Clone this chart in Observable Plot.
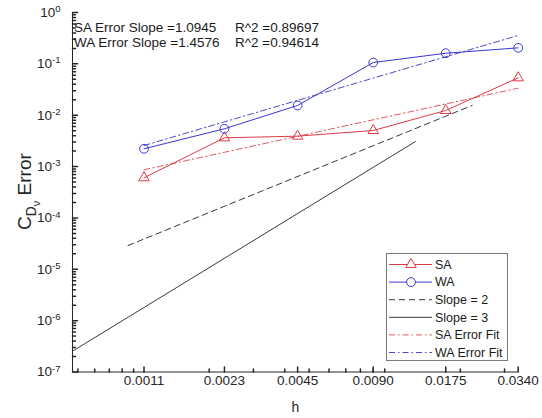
<!DOCTYPE html>
<html><head><meta charset="utf-8">
<script src="https://cdn.jsdelivr.net/npm/d3@7"></script>
<script src="https://cdn.jsdelivr.net/npm/@observablehq/plot@0.6"></script>
<style>
body{margin:0;background:#fff;}
#chart svg{font-family:"Liberation Sans",Arial,Helvetica,sans-serif;}
</style>
</head><body><div id="chart"></div>
<script>
// ---- data ----
const hValues = [0.0011, 0.0023, 0.0045, 0.0090, 0.0175, 0.0340];
const hLabels = ["0.0011", "0.0023", "0.0045", "0.0090", "0.0175", "0.0340"];
const saError = [6.05e-4, 3.63e-3, 3.91e-3, 5.04e-3, 1.236e-2, 5.35e-2];
const waError = [2.22e-3, 5.44e-3, 1.55e-2, 1.06e-1, 1.61e-1, 2.05e-1];
const saFitH = [0.0011, 0.0340];
const saFit = [8.65e-4, 3.36e-2];
const waFitH = [0.0011, 0.0340];
const waFit = [2.57e-3, 3.57e-1];
const slope2H = [0.00095, 0.0223];
const slope2 = [2.9e-5, 1.55e-2];
const slope3H = [0.000571, 0.01326];
const slope3 = [2.54e-7, 3.08e-3];
const yTicks = [1e-7, 1e-6, 1e-5, 1e-4, 1e-3, 1e-2, 1e-1, 1];
const yExponents = ["-7", "-6", "-5", "-4", "-3", "-2", "-1", "0"];
const xDomain = [0.000571, 0.0341];
const yDomain = [1e-7, 1];
const slopeText = ["SA Error Slope =1.0945", "WA Error Slope =1.4576"];
const r2Text = ["R^2 =0.89697", "R^2 =0.94614"];
const legendLabels = ["SA", "WA", "Slope = 2", "Slope = 3", "SA Error Fit", "WA Error Fit"];
const xLabel = "h";

// ---- styles ----
const SA = "#dc3c46", WA = "#3838d0", SAfit = "#e05a62", WAfit = "#4a4ac8", K = "#3a3a3a", AX = "#262626";
const DASHDOT = "6,3,1.5,3", DASH = "6,4";

const rows = (xs, ys) => xs.map((x, i) => ({x, y: ys[i]}));
const saRows = rows(hValues, saError), waRows = rows(hValues, waError);

// minor log ticks (axis decoration)
const minorX = [], minorY = [];
for (let e = -4; e <= -1; e++) for (let m = 1; m <= 9; m++) {
  const v = m * Math.pow(10, e);
  if (v >= xDomain[0] && v <= xDomain[1]) minorX.push(v);
}
for (let e = -7; e < 0; e++) for (let m = 2; m <= 9; m++) minorY.push(m * Math.pow(10, e));

const tickShape = {draw(ctx, l) { ctx.moveTo(0, 0); ctx.lineTo(0, -l); }};

const plot = Plot.plot({
  width: 542, height: 418,
  marginLeft: 72, marginRight: 24, marginTop: 12, marginBottom: 46.5,
  style: {fontFamily: "'Liberation Sans', Arial, sans-serif", fontSize: "13.5px", color: AX, background: "white"},
  x: {type: "log", domain: xDomain, axis: null},
  y: {type: "log", domain: yDomain, axis: null},
  marks: [
    Plot.ruleY([yDomain[0]], {stroke: AX, strokeWidth: 1}),
    Plot.ruleX([xDomain[0]], {stroke: AX, strokeWidth: 1}),
    // inward ticks
    Plot.vector(hValues, {x: d => d, frameAnchor: "bottom", length: 5, rotate: 0, anchor: "start", shape: tickShape, stroke: AX}),
    Plot.vector(minorX, {x: d => d, frameAnchor: "bottom", length: 3, rotate: 0, anchor: "start", shape: tickShape, stroke: AX}),
    Plot.vector(yTicks, {y: d => d, frameAnchor: "left", length: 5, rotate: 90, anchor: "start", shape: tickShape, stroke: AX}),
    Plot.vector(minorY, {y: d => d, frameAnchor: "left", length: 3, rotate: 90, anchor: "start", shape: tickShape, stroke: AX}),
    // tick labels
    Plot.text(hLabels, {x: (d, i) => hValues[i], frameAnchor: "bottom", dy: 13, text: d => d, fill: AX, fontSize: 13.5}),
    Plot.text(yExponents, {y: (d, i) => yTicks[i], frameAnchor: "left", dx: -12, textAnchor: "end", text: d => "10^" + d, fill: AX, fontSize: 13.5}),
    // reference slopes
    Plot.line(rows(slope2H, slope2), {x: "x", y: "y", stroke: K, strokeWidth: 1, strokeDasharray: DASH}),
    Plot.line(rows(slope3H, slope3), {x: "x", y: "y", stroke: K, strokeWidth: 1}),
    // fits
    Plot.line(rows(saFitH, saFit), {x: "x", y: "y", stroke: SAfit, strokeWidth: 1, strokeDasharray: DASHDOT}),
    Plot.line(rows(waFitH, waFit), {x: "x", y: "y", stroke: WAfit, strokeWidth: 1, strokeDasharray: DASHDOT}),
    // data
    Plot.line(saRows, {x: "x", y: "y", stroke: SA, strokeWidth: 1}),
    Plot.line(waRows, {x: "x", y: "y", stroke: WA, strokeWidth: 1}),
    Plot.dot(saRows, {x: "x", y: "y", symbol: "triangle", r: 3.9, stroke: SA, fill: "none", strokeWidth: 1}),
    Plot.dot(waRows, {x: "x", y: "y", symbol: "circle", r: 4.4, stroke: WA, fill: "none", strokeWidth: 1}),
    // x label
    Plot.text([xLabel], {frameAnchor: "bottom", dy: 39.5, text: d => d, fill: AX, fontSize: 14})
  ]
});
document.getElementById("chart").appendChild(plot);
const svg = d3.select(plot);

// annotations (top-left of the axes)
const ann = svg.append("g").attr("font-size", "13.5px").attr("fill", "#1a1a1a").attr("text-anchor", "start");
slopeText.forEach((t, i) => {
  ann.append("text").attr("x", 74).attr("y", 31.5 + i * 15.5).text(t);
  ann.append("text").attr("x", 235).attr("y", 31.5 + i * 15.5).text(r2Text[i]);
});

// superscript exponents on y tick labels
svg.selectAll("text").each(function() {
  const m = /^10\^(-?\d+)$/.exec(this.textContent);
  if (m) {
    const s = d3.select(this);
    s.text("10");
    s.append("tspan").attr("dy", "-0.5em").attr("font-size", "9.5px").text(m[1]);
  }
});

// y label with nested subscripts (sized so it spans ~77px like the reference)
function drawYLabel(fs) {
  svg.selectAll(".ylab").remove();
  const yl = svg.append("text").attr("class", "ylab").attr("transform", "translate(31,191.5) rotate(-90)")
    .attr("text-anchor", "middle").attr("font-size", fs + "px").attr("fill", AX);
  yl.append("tspan").text("C");
  yl.append("tspan").attr("dy", fs * 0.28).attr("font-size", (fs * 0.72) + "px").text("D");
  yl.append("tspan").attr("dy", fs * 0.2).attr("font-size", (fs * 0.56) + "px").text("\u03bd");
  yl.append("tspan").attr("dy", -fs * 0.48).text(" Error");
  return yl;
}
let yl = drawYLabel(15);
try {
  const len = yl.node().getComputedTextLength();
  if (len > 0) yl = drawYLabel(Math.max(13, Math.min(20, 15 * 77 / len)));
} catch (e) {}

// legend
const lg = svg.append("g").attr("font-size", "12.5px").attr("text-anchor", "start");
lg.append("rect").attr("x", 386.5).attr("y", 253.5).attr("width", 121).attr("height", 107)
  .attr("fill", "white").attr("stroke", "#7a7a7a").attr("stroke-width", 1);
const lgStyles = [
  {stroke: SA, dash: null, marker: "triangle"},
  {stroke: WA, dash: null, marker: "circle"},
  {stroke: K, dash: DASH},
  {stroke: K, dash: null},
  {stroke: SAfit, dash: DASHDOT},
  {stroke: WAfit, dash: DASHDOT}
];
legendLabels.forEach((lab, i) => {
  const y = 264.5 + i * 17.6, st = lgStyles[i];
  lg.append("line").attr("x1", 389).attr("x2", 432).attr("y1", y).attr("y2", y)
    .attr("stroke", st.stroke).attr("stroke-width", 1).attr("stroke-dasharray", st.dash);
  if (st.marker === "triangle") lg.append("path").attr("transform", `translate(411,${y})`)
    .attr("d", d3.symbol(d3.symbolTriangle, Math.PI * 3.9 * 3.9)()).attr("fill", "white").attr("stroke", st.stroke);
  if (st.marker === "circle") lg.append("circle").attr("cx", 411).attr("cy", y).attr("r", 4.4)
    .attr("fill", "white").attr("stroke", st.stroke);
  lg.append("text").attr("x", 435).attr("y", y).attr("dy", "0.35em").attr("fill", "#1a1a1a").text(lab);
});
</script>
</body></html>
